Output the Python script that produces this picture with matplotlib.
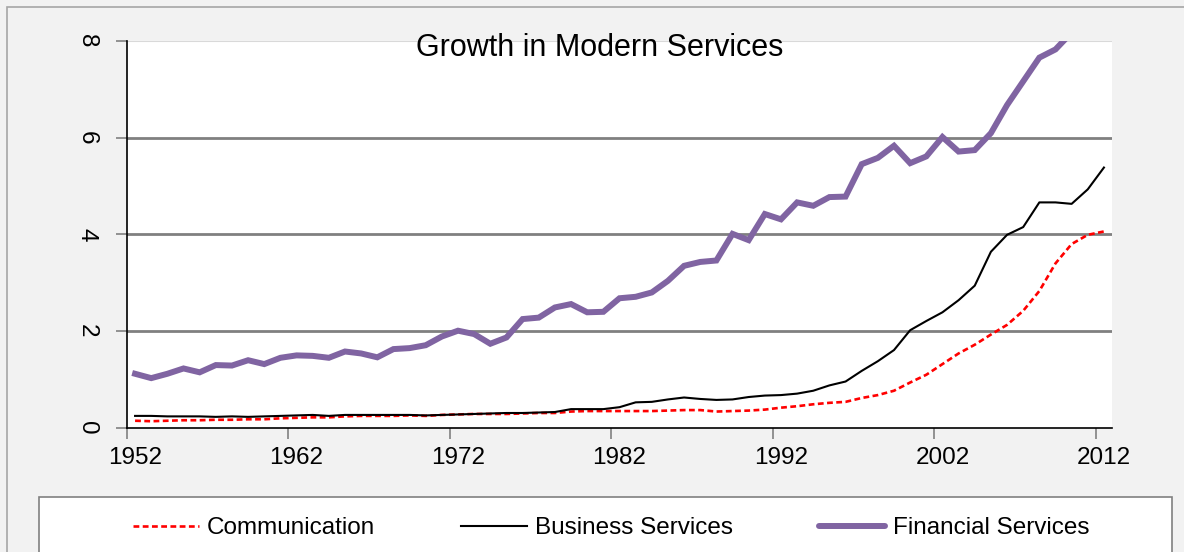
import matplotlib
matplotlib.use('Agg')
import matplotlib.pyplot as plt
from matplotlib.lines import Line2D
from matplotlib.patches import Rectangle

plt.rcParams['font.family'] = ['Liberation Sans', 'DejaVu Sans']

# data
years = list(range(1952, 2013))

communication = [0.15, 0.14, 0.15, 0.16, 0.16, 0.17, 0.17, 0.18, 0.18, 0.20,
                 0.21, 0.22, 0.22, 0.24, 0.25, 0.25, 0.25, 0.26, 0.25, 0.27,
                 0.28, 0.29, 0.29, 0.29, 0.30, 0.31, 0.31, 0.34, 0.35, 0.35,
                 0.35, 0.35, 0.35, 0.36, 0.37, 0.37, 0.34, 0.35, 0.36, 0.38,
                 0.42, 0.45, 0.49, 0.52, 0.54, 0.62, 0.68, 0.77, 0.94, 1.10,
                 1.32, 1.54, 1.72, 1.93, 2.13, 2.42, 2.83, 3.40, 3.80, 3.99,
                 4.06]

business = [0.25, 0.25, 0.24, 0.24, 0.24, 0.23, 0.24, 0.23, 0.24, 0.25,
            0.26, 0.27, 0.25, 0.27, 0.27, 0.27, 0.27, 0.27, 0.26, 0.27,
            0.28, 0.29, 0.30, 0.31, 0.31, 0.32, 0.33, 0.39, 0.39, 0.39,
            0.43, 0.53, 0.54, 0.59, 0.63, 0.60, 0.58, 0.59, 0.64, 0.67,
            0.68, 0.71, 0.77, 0.88, 0.96, 1.18, 1.38, 1.61, 2.02, 2.21,
            2.39, 2.64, 2.94, 3.64, 3.99, 4.15, 4.66, 4.66, 4.63, 4.93,
            5.38]

financial = [1.12, 1.03, 1.12, 1.23, 1.15, 1.30, 1.29, 1.40, 1.32, 1.45,
             1.50, 1.49, 1.45, 1.58, 1.54, 1.46, 1.63, 1.65, 1.71, 1.89,
             2.01, 1.94, 1.74, 1.87, 2.25, 2.28, 2.49, 2.56, 2.39, 2.40,
             2.68, 2.71, 2.80, 3.04, 3.35, 3.43, 3.46, 4.01, 3.88, 4.42,
             4.31, 4.66, 4.59, 4.77, 4.78, 5.45, 5.58, 5.83, 5.47, 5.61,
             6.01, 5.71, 5.74, 6.09, 6.67, 7.16, 7.65, 7.82, 8.17, 8.50,
             8.80]

label_years = [1952, 1962, 1972, 1982, 1992, 2002, 2012]
y_ticks = [0, 2, 4, 6, 8]

W, H = 1184, 552
fig = plt.figure(figsize=(W / 100, H / 100), dpi=100)
fig.patch.set_facecolor('#f2f2f2')

ax = fig.add_axes([127 / W, 1 - 428 / H, (1112 - 127) / W, (428 - 40.7) / H])
ax.set_facecolor('white')

ax.plot(years, communication, color='#ff0000', lw=1.9, linestyle=(0, (2.2, 1.3)),
        zorder=3)
ax.plot(years, business, color='black', lw=1.5, zorder=4)
ax.plot(years, financial, color='#8064a2', lw=4.3, solid_joinstyle='miter',
        zorder=5)

ax.set_xlim(1951.5, 2012.5)
ax.set_ylim(0, 8)

# gridlines
for v in [2, 4, 6]:
    ax.axhline(v, color='#808080', lw=2, zorder=1)
ax.axhline(8, color='#d9d9d9', lw=1.5, zorder=1)

for s in ['top', 'right']:
    ax.spines[s].set_visible(False)
ax.spines['left'].set_color('black')
ax.spines['bottom'].set_color('black')
ax.spines['left'].set_linewidth(1.2)
ax.spines['bottom'].set_linewidth(1.2)

# category style axis: ticks between categories, labels on them
ax.set_xticks([y - 0.5 for y in label_years])
ax.set_xticklabels([])
ax.set_xticks(label_years, minor=True)
ax.set_xticklabels([str(y) for y in label_years], minor=True, fontsize=17.5)
ax.tick_params(axis='x', which='major', length=8, color='#808080', width=1.2)
ax.tick_params(axis='x', which='minor', length=0, pad=14)

ax.set_yticks(y_ticks)
ax.set_yticklabels([str(v) for v in y_ticks], fontsize=17.5, rotation=-90,
                   va='center')
ax.tick_params(axis='y', length=8, color='#808080', width=1.2, pad=13)

fig.text(599.5 / W, 1 - 56 / H, 'Growth in Modern Services', fontsize=22,
         ha='center', va='baseline')

# outer chart frame and legend box
fig.add_artist(Rectangle((7 / W, -0.1), 2, 1 - 7 / H + 0.1, transform=fig.transFigure,
                         fill=False, edgecolor='#a6a6a6', lw=1.2))
fig.add_artist(Rectangle((39.3 / W, -0.1), (1171.7 - 39.3) / W, 0.1 + 1 - 496.7 / H,
                         transform=fig.transFigure, facecolor='white',
                         edgecolor='#808080', lw=1.2))

handles = [
    Line2D([], [], color='#ff0000', lw=1.9, linestyle=(0, (2.2, 1.3))),
    Line2D([], [], color='black', lw=1.5),
    Line2D([], [], color='#8064a2', lw=4.3, solid_capstyle='round'),
]
fig.legend(handles, ['Communication', 'Business Services', 'Financial Services'],
           loc='center', bbox_to_anchor=(611 / W, 1 - 528 / H), ncol=3,
           frameon=False, fontsize=17.5, handlelength=2.72, handletextpad=0.33,
           columnspacing=3.53)

fig.savefig('out.png', dpi=100, facecolor=fig.get_facecolor())
